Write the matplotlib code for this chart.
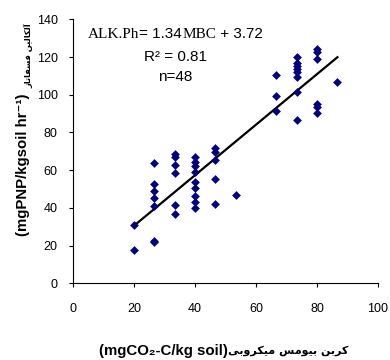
import matplotlib
matplotlib.use("Agg")
import matplotlib.pyplot as plt
import numpy as np

# داده‌ها (خوانده شده از نمودار)
mbc = [20, 20,
       26.7, 26.7, 26.7, 26.7, 26.7, 26.7, 26.7,
       33.3, 33.3, 33.3, 33.3, 33.3, 33.3,
       40, 40, 40, 40, 40, 40, 40, 40, 40,
       46.7, 46.7, 46.7, 46.7, 46.7,
       53.3,
       66.7, 66.7, 66.7,
       73.3, 73.3, 73.3, 73.3, 73.3, 73.3, 73.3, 73.3,
       80, 80, 80, 80, 80, 80,
       86.7]
alk_ph = [30.8, 17.5,
          64.0, 52.9, 49.0, 45.3, 41.2, 22.6, 21.9,
          68.4, 67.2, 63.0, 58.7, 41.6, 37.0,
          66.8, 64.4, 62.4, 58.9, 53.9, 50.4, 46.5, 43.3, 39.8,
          72.0, 69.5, 65.4, 55.3, 42.0,
          47.0,
          110.5, 99.4, 91.6,
          120.2, 116.7, 115.5, 113.7, 111.8, 109.6, 101.7, 86.6,
          124.1, 122.4, 118.8, 95.0, 93.7, 90.2,
          106.6]
slope = 1.34
intercept = 3.72
x_ticks = [0, 20, 40, 60, 80, 100]
y_ticks = [0, 20, 40, 60, 80, 100, 120, 140]

# شکل‌دهی ساده حروف فارسی (matplotlib خودش حروف را به هم وصل نمی‌کند)
FORMS = {
    'آ': ('\uFE81', '\uFE82', None, None),
    'ا': ('\uFE8D', '\uFE8E', None, None),
    'ب': ('\uFE8F', '\uFE90', '\uFE91', '\uFE92'),
    'ت': ('\uFE95', '\uFE96', '\uFE97', '\uFE98'),
    'ر': ('\uFEAD', '\uFEAE', None, None),
    'ز': ('\uFEAF', '\uFEB0', None, None),
    'س': ('\uFEB1', '\uFEB2', '\uFEB3', '\uFEB4'),
    'ف': ('\uFED1', '\uFED2', '\uFED3', '\uFED4'),
    'ک': ('\uFB8E', '\uFB8F', '\uFB90', '\uFB91'),
    'ل': ('\uFEDD', '\uFEDE', '\uFEDF', '\uFEE0'),
    'م': ('\uFEE1', '\uFEE2', '\uFEE3', '\uFEE4'),
    'ن': ('\uFEE5', '\uFEE6', '\uFEE7', '\uFEE8'),
    'و': ('\uFEED', '\uFEEE', None, None),
    'ی': ('\uFBFC', '\uFBFD', '\uFBFE', '\uFBFF'),
}


def shape_fa(s):
    out = []
    for i, c in enumerate(s):
        if c not in FORMS:
            out.append(c)
            continue
        f = FORMS[c]
        prev = s[i - 1] if i > 0 else None
        nxt = s[i + 1] if i + 1 < len(s) else None
        jp = prev in FORMS and FORMS[prev][2] is not None
        jn = f[2] is not None and nxt in FORMS
        if jp and jn:
            out.append(f[3])
        elif jp:
            out.append(f[1])
        elif jn:
            out.append(f[2])
        else:
            out.append(f[0])
    return ''.join(out)[::-1]


FAM = ['Liberation Sans', 'DejaVu Sans']
SERIF = ['Liberation Serif', 'DejaVu Serif']

W, H = 390, 360
fig = plt.figure(figsize=(3.9, 3.6), dpi=100)
ax = fig.add_axes([73 / W, 1 - 283.3 / H, (378 - 73) / W, (283.3 - 19.3) / H])

ax.scatter(mbc, alk_ph, marker='D', s=20, color='#000080', linewidths=0, zorder=3)
xf = np.array([min(mbc), max(mbc)])
ax.plot(xf, slope * xf + intercept, color='black', lw=1.6, zorder=2)

ax.set_xlim(0, 100)
ax.set_ylim(0, 140)
ax.set_xticks(x_ticks)
ax.set_yticks(y_ticks)
for sp in ['top', 'right']:
    ax.spines[sp].set_visible(False)
for sp in ['left', 'bottom']:
    ax.spines[sp].set_color('black')
    ax.spines[sp].set_linewidth(0.8)
ax.tick_params(direction='out', length=3, width=0.8, labelsize=9)
ax.tick_params(axis='x', pad=11)
ax.tick_params(axis='y', pad=8)
for lab in ax.get_xticklabels() + ax.get_yticklabels():
    lab.set_family(FAM)


def px(x, y):
    return x / W, 1 - y / H


# معادله رگرسیون
fig.canvas.draw()
renderer = fig.canvas.get_renderer()
pieces = [("ALK.Ph", SERIF), ("= 1.34", FAM), ("MBC", SERIF), (" + 3.72", FAM)]
cur = 88
for txt, fam in pieces:
    t = fig.text(*px(cur, 38), txt, family=fam, fontsize=11, ha='left', va='baseline')
    cur += t.get_window_extent(renderer).width
fig.text(*px(175, 57), "R² = 0.81", family=FAM, fontsize=11, ha='center', va='center')
fig.text(*px(175, 77), "n=48", family=FAM, fontsize=11, ha='center', va='center')

# عنوان محور y
ty1 = fig.text(*px(23, 165), "(mgPNP/kgsoil hr⁻¹)", family=FAM, fontsize=10.8,
               fontweight='bold', rotation=90, ha='center', va='center')
ty2 = fig.text(0, 0, shape_fa("آلکالین فسفاتاز"), family=['DejaVu Sans'], fontsize=6,
               fontweight='bold', rotation=90, ha='center', va='center')
h1 = ty1.get_window_extent(renderer).height
h2 = ty2.get_window_extent(renderer).height
ty2.set_position(px(29, 165 - h1 / 2 - 6 - h2 / 2))

# عنوان محور x
t1 = fig.text(0, 0, "(mgCO₂-C/kg soil)", family=FAM, fontsize=10.8, fontweight='bold',
              ha='left', va='center')
t2 = fig.text(0, 0, shape_fa("کربن بیومس میکروبی"), family=['DejaVu Sans'], fontsize=8,
              fontweight='bold', ha='left', va='center')
w1 = t1.get_window_extent(renderer).width
w2 = t2.get_window_extent(renderer).width
x0 = 224 - (w1 + w2) / 2
t1.set_position(px(x0, 351))
t2.set_position(px(x0 + w1, 351))

fig.savefig("out.png", dpi=100)
